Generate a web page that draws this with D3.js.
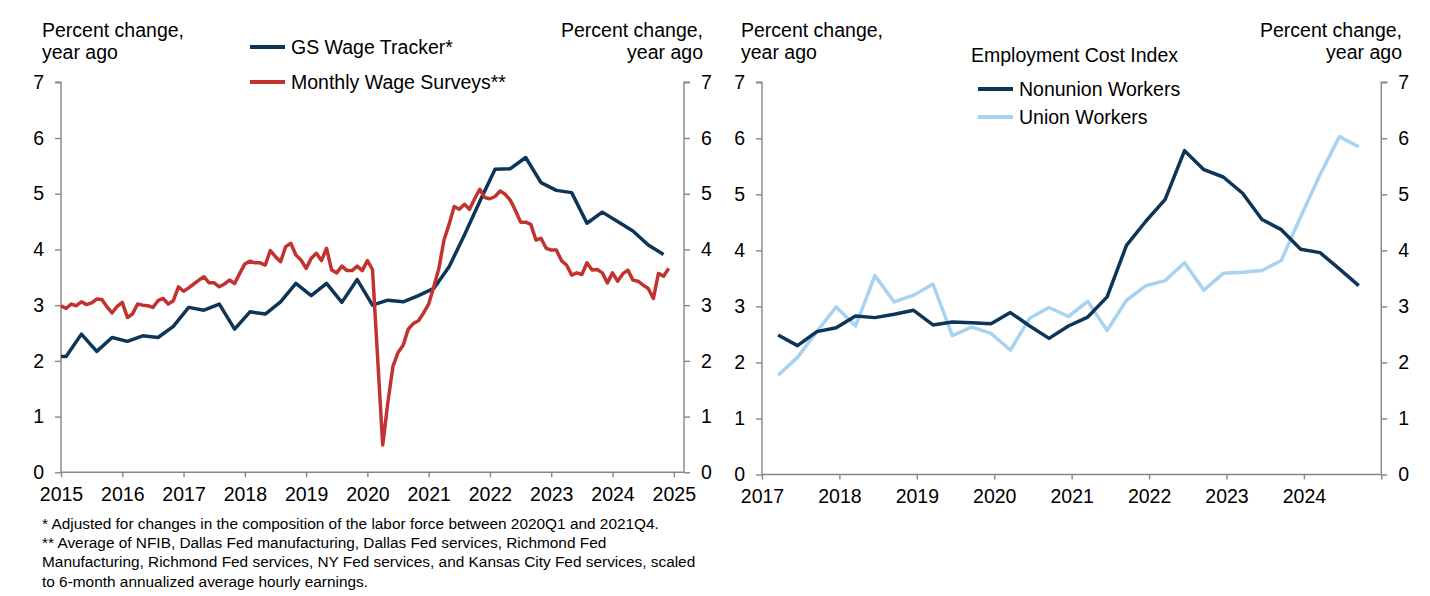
<!DOCTYPE html>
<html><head><meta charset="utf-8">
<script src="https://cdn.jsdelivr.net/npm/d3@7"></script>
<style>
body{margin:0;background:#fff}
svg text{font-family:"Liberation Sans",Arial,Helvetica,sans-serif;fill:#000}
</style>
</head><body>
<svg id="chart" width="1430" height="596"></svg>
<script>
// ---------------- DATA ----------------
const yTickValues = [0, 1, 2, 3, 4, 5, 6, 7];
const leftYearTicks = [2015, 2016, 2017, 2018, 2019, 2020, 2021, 2022, 2023, 2024, 2025];
const rightYearTicks = [2017, 2018, 2019, 2020, 2021, 2022, 2023, 2024, 2025];
const rightYearLabels = ["2017", "2018", "2019", "2020", "2021", "2022", "2023", "2024", ""];

// GS Wage Tracker (quarterly, plotted at mid-quarter month)
const gsDates = ["2015-01","2015-02","2015-05","2015-08","2015-11",
  "2016-02","2016-05","2016-08","2016-11","2017-02","2017-05","2017-08","2017-11",
  "2018-02","2018-05","2018-08","2018-11","2019-02","2019-05","2019-08","2019-11",
  "2020-02","2020-05","2020-08","2020-11","2021-02","2021-05","2021-08","2021-11",
  "2022-02","2022-05","2022-08","2022-11","2023-02","2023-05","2023-08","2023-11",
  "2024-02","2024-05","2024-08","2024-11"];
const gsValues = [2.08, 2.08, 2.48, 2.17, 2.42,
  2.35, 2.45, 2.42, 2.62, 2.96, 2.91, 3.02, 2.57,
  2.88, 2.84, 3.06, 3.39, 3.17, 3.39, 3.05, 3.46,
  3.00, 3.09, 3.06, 3.17, 3.30, 3.69, 4.26, 4.86,
  5.44, 5.45, 5.65, 5.20, 5.06, 5.02, 4.47, 4.67,
  4.50, 4.33, 4.08, 3.91];

// Monthly Wage Surveys (monthly, Jan 2015 - Dec 2024)
const surveyStart = "2015-01";
const surveyValues = [
  2.99, 2.94, 3.02, 2.99, 3.06, 3.01, 3.04, 3.11, 3.10, 2.97, 2.86, 2.98,
  3.05, 2.78, 2.84, 3.02, 3.00, 2.99, 2.96, 3.08, 3.12, 3.02, 3.08, 3.33,
  3.25, 3.31, 3.38, 3.45, 3.51, 3.40, 3.40, 3.33, 3.38, 3.45, 3.39, 3.57,
  3.74, 3.79, 3.76, 3.76, 3.72, 3.98, 3.87, 3.78, 4.05, 4.11, 3.90, 3.81,
  3.66, 3.84, 3.93, 3.80, 4.02, 3.63, 3.58, 3.70, 3.62, 3.62, 3.70, 3.62,
  3.80, 3.64, 2.06, 0.49, 1.25, 1.90, 2.15, 2.28, 2.57, 2.67, 2.72, 2.86,
  3.02, 3.33, 3.66, 4.17, 4.45, 4.77, 4.72, 4.81, 4.72, 4.91, 5.08, 4.93,
  4.91, 4.95, 5.05, 4.99, 4.88, 4.70, 4.49, 4.49, 4.45, 4.17, 4.20, 4.02,
  3.99, 3.99, 3.80, 3.72, 3.54, 3.58, 3.55, 3.76, 3.63, 3.64, 3.58, 3.40,
  3.58, 3.43, 3.56, 3.63, 3.45, 3.43, 3.36, 3.30, 3.12, 3.57, 3.52, 3.66];

// Employment Cost Index (quarterly, 2017Q1 - 2024Q3)
const eciQuarters = ["2017Q1","2017Q2","2017Q3","2017Q4","2018Q1","2018Q2","2018Q3","2018Q4",
  "2019Q1","2019Q2","2019Q3","2019Q4","2020Q1","2020Q2","2020Q3","2020Q4",
  "2021Q1","2021Q2","2021Q3","2021Q4","2022Q1","2022Q2","2022Q3","2022Q4",
  "2023Q1","2023Q2","2023Q3","2023Q4","2024Q1","2024Q2","2024Q3"];
const nonunionValues = [2.49, 2.30, 2.55, 2.62, 2.83, 2.80, 2.86, 2.93,
  2.67, 2.72, 2.71, 2.69, 2.89, 2.65, 2.43, 2.65,
  2.81, 3.17, 4.09, 4.52, 4.91, 5.78, 5.44, 5.31,
  5.02, 4.55, 4.37, 4.02, 3.96, 3.67, 3.37];
const unionValues = [1.77, 2.09, 2.55, 2.99, 2.65, 3.55, 3.08, 3.20,
  3.40, 2.48, 2.63, 2.52, 2.22, 2.79, 2.98, 2.82,
  3.09, 2.57, 3.11, 3.37, 3.46, 3.78, 3.29, 3.59,
  3.61, 3.64, 3.82, 4.60, 5.35, 6.03, 5.85];

const footnotes = [
  "* Adjusted for changes in the composition of the labor force between 2020Q1 and 2021Q4.",
  "** Average of NFIB, Dallas Fed manufacturing, Dallas Fed services, Richmond Fed",
  "Manufacturing, Richmond Fed services, NY Fed services, and Kansas City Fed services, scaled",
  "to 6-month annualized average hourly earnings."
];

// ---------------- STYLE ----------------
const NAVY = "#0c3558", RED = "#c2322f", LIGHT = "#a8d2f1", AXIS = "#868686";
const FS = 19.5;

const svg = d3.select("#chart");

function monthToYear(s) { const [y, m] = s.split("-").map(Number); return y + (m - 1) / 12; }
function quarterToYear(s) { const y = +s.slice(0, 4), q = +s.slice(5); return y + (3 * q - 1 + 0.5) / 12; }

function drawAxes(x, y, cfg) {
  const g = svg.append("g");
  const la = g.append("g").attr("transform", `translate(${cfg.left},0)`)
    .call(d3.axisLeft(y).tickValues(yTickValues).tickSize(6).tickPadding(11).tickFormat(d3.format("d")));
  const ra = g.append("g").attr("transform", `translate(${cfg.right},0)`)
    .call(d3.axisRight(y).tickValues(yTickValues).tickSize(6).tickPadding(11).tickFormat(d3.format("d")));
  const xa = g.append("g").attr("transform", `translate(0,${cfg.bottom})`)
    .call(d3.axisBottom(x).tickValues(cfg.xTicks).tickSize(5).tickPadding(10)
      .tickFormat((d, i) => cfg.xLabels[i]));
  [la, ra, xa].forEach(a => {
    a.select(".domain").attr("stroke", AXIS).attr("stroke-width", 1.4);
    a.selectAll(".tick line").attr("stroke", AXIS).attr("stroke-width", 1.4);
    a.selectAll(".tick text").attr("font-size", FS).attr("fill", "#000")
      .style("font-family", '"Liberation Sans",Arial,sans-serif');
  });
  la.select(".domain").attr("d", `M-6,${y(7)}H0V${cfg.bottom}`);
  ra.select(".domain").attr("d", `M6,${y(7)}H0V${cfg.bottom}`);
  xa.select(".domain").attr("d", `M${cfg.left},0H${cfg.right}`);
}

function axisTitles(leftX, rightX) {
  const lines = ["Percent change,", "year ago"];
  lines.forEach((t, i) => {
    svg.append("text").attr("x", leftX).attr("y", 37 + i * 22).attr("font-size", FS).text(t);
    svg.append("text").attr("x", rightX).attr("y", 37 + i * 22).attr("font-size", FS)
      .attr("text-anchor", "end").text(t);
  });
}

function legendItem(x, yc, color, label) {
  svg.append("line").attr("x1", x).attr("x2", x + 35).attr("y1", yc).attr("y2", yc)
    .attr("stroke", color).attr("stroke-width", 4);
  svg.append("text").attr("x", x + 41).attr("y", yc).attr("dy", "0.35em")
    .attr("font-size", FS).text(label);
}

// ---------------- LEFT CHART ----------------
const xL = d3.scaleLinear().domain([2015, 2025 + 2 / 12]).range([61, 684]);
const yL = d3.scaleLinear().domain([0, 7]).range([472.3, 82.3]);
drawAxes(xL, yL, { left: 61, right: 684, bottom: 472.3, xTicks: leftYearTicks,
  xLabels: leftYearTicks.map(String) });
axisTitles(42, 703);

const startY = monthToYear(surveyStart);
const surveyPts = surveyValues.map((v, i) => [startY + i / 12, v]);
const gsPts = gsDates.map((d, i) => [monthToYear(d), gsValues[i]]);
const lineL = d3.line().x(d => xL(d[0])).y(d => yL(d[1]));

svg.append("path").datum(gsPts).attr("d", lineL).attr("fill", "none")
  .attr("stroke", NAVY).attr("stroke-width", 3.5).attr("stroke-linejoin", "round");
svg.append("path").datum(surveyPts).attr("d", lineL).attr("fill", "none")
  .attr("stroke", RED).attr("stroke-width", 3.5).attr("stroke-linejoin", "round");

legendItem(250, 47, NAVY, "GS Wage Tracker*");
legendItem(250, 82, RED, "Monthly Wage Surveys**");

// footnotes
footnotes.forEach((t, i) => {
  svg.append("text").attr("x", 42).attr("y", 529 + i * 19.2).attr("font-size", 15.4).text(t);
});

// ---------------- RIGHT CHART ----------------
const xR = d3.scaleLinear().domain([2017, 2025]).range([762, 1381.3]);
const yR = d3.scaleLinear().domain([0, 7]).range([474.5, 82.3]);
drawAxes(xR, yR, { left: 762, right: 1381.3, bottom: 474.5, xTicks: rightYearTicks,
  xLabels: rightYearLabels });
axisTitles(741, 1402);

svg.append("text").attr("x", 971).attr("y", 55).attr("dy", "0.35em")
  .attr("font-size", FS).text("Employment Cost Index");

const lineR = d3.line().x(d => xR(d[0])).y(d => yR(d[1]));
const nonPts = eciQuarters.map((q, i) => [quarterToYear(q), nonunionValues[i]]);
const uniPts = eciQuarters.map((q, i) => [quarterToYear(q), unionValues[i]]);
svg.append("path").datum(uniPts).attr("d", lineR).attr("fill", "none")
  .attr("stroke", LIGHT).attr("stroke-width", 3.5).attr("stroke-linejoin", "round");
svg.append("path").datum(nonPts).attr("d", lineR).attr("fill", "none")
  .attr("stroke", NAVY).attr("stroke-width", 3.5).attr("stroke-linejoin", "round");

legendItem(978, 89, NAVY, "Nonunion Workers");
legendItem(978, 117, LIGHT, "Union Workers");
</script>
</body></html>
